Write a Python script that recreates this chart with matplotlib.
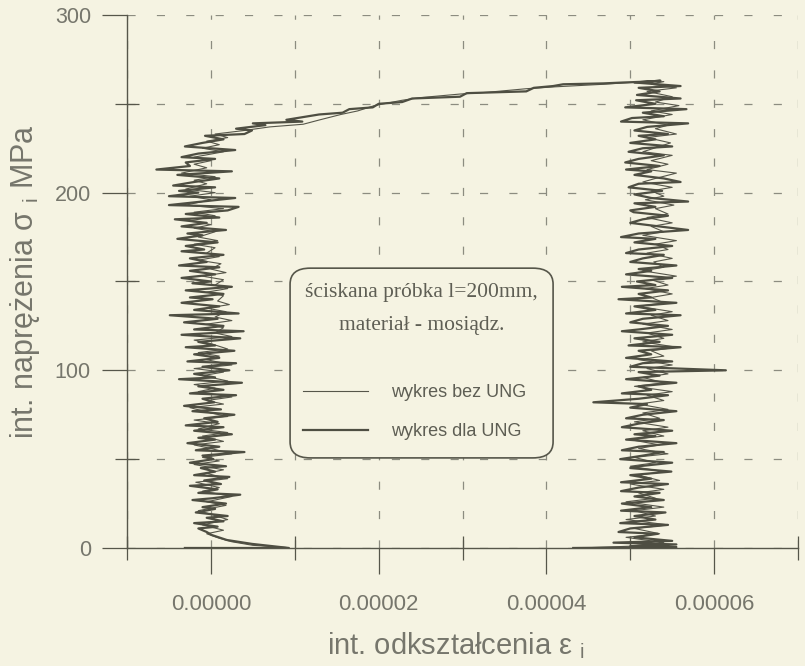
import matplotlib
matplotlib.use("Agg")
import matplotlib.pyplot as plt
from matplotlib.patches import FancyBboxPatch
from matplotlib.ticker import MultipleLocator, FormatStrFormatter

# strain values are given in micro-strain, stress in MPa
eps_dla = [
    -3.1, 9.3, 4.9, 1.9, 0.1, -0.5,
    -1.5, 0.8, -2.0, 1.5, -0.5, 2.0, -1.8, 0.5, -1.0, 1.8, -2.2, 0.2, 3.5, -1.5,
    0.8, -2.5, 1.2, -0.8, 2.2, -2.0, 0.5, -1.2, 1.8, -2.5, 0.3, -1.0, 4.0, -1.8,
    1.0, -2.8, 0.5, -1.5, 2.5, -2.0, 1.5, -3.0, 0.8, -0.8, 2.8, -2.2, 1.2, -3.2,
    0.4, -1.0, 3.0, -2.5, 1.5, -1.5, 3.7, -3.8, 0.5, -2.0, 2.2, -1.0, 3.0, -2.8,
    1.0, -2.0, 2.8, -3.0, 0.5, -1.5, 3.5, -3.5, 3.9, -2.0, 1.5, -3.2, 0.8, -4.9,
    3.3, -2.0, 1.0, -3.5, 0.2, -2.5, 1.5, -3.0, 2.5, -2.2, 0.0, -3.5, 0.5, -2.5,
    1.0, -3.8, -0.5, -2.5, 1.5, -3.5, -0.8, -3.0, 0.8, -4.0, -1.0, -2.8, 1.8, -3.5,
    -0.5, -4.3, 1.0, -3.0, 2.0, 3.3, -5.0, -1.0, 2.9, -5.0, -1.5, -3.8, 0.5, -4.5,
    -2.0, 1.0, -4.0, 2.5, -6.5, -2.5, -3.0, 0.5, -3.5, -1.5, 2.9, -3.1, -1.0, 1.5,
    -0.7, 4.0,
    4.9, 3.0, 6.5, 5.0, 10.9, 9.0, 12.9, 15.7, 16.5, 19.3, 20.0, 22.8, 24.0, 29.7,
    30.5, 37.6, 38.5, 40.8, 42.0, 46.8, 49.2, 52.0, 53.6,
    50.5, 56.0, 51.0, 53.5, 50.8, 56.0, 50.7, 53.0, 49.4, 56.7, 51.5, 54.0, 50.2,
    48.9, 56.9, 52.0, 50.5, 54.5, 51.0, 53.0, 50.0, 55.0, 51.5, 49.8, 54.0, 51.0,
    49.4, 53.5, 49.5, 52.5, 50.5, 54.0, 56.0, 51.0, 49.8, 53.8, 50.5, 52.5, 56.9,
    50.5, 53.0, 50.0, 50.4, 54.5, 51.5, 50.0, 53.5, 56.9, 51.0, 48.9, 53.0, 50.5,
    55.0, 51.0, 49.5, 54.0, 51.5, 50.0, 55.5, 51.0, 52.5, 49.5, 55.0, 50.8, 53.0,
    49.0, 54.5, 51.0, 52.5, 48.6, 55.5, 50.5, 53.0, 49.5, 56.0, 51.5, 50.0, 54.5,
    51.0, 49.0, 55.0, 50.5, 53.5, 49.8, 56.0, 51.0, 52.5, 49.5, 55.0, 51.5, 50.0,
    61.4, 51.0, 53.5, 49.5, 55.5, 51.0, 52.5, 49.0, 54.5, 51.0, 45.6, 52.0, 50.0,
    55.5, 51.5, 49.5, 54.0, 51.0, 49.0, 55.0, 50.5, 53.0, 49.5, 55.5, 51.0, 49.0,
    54.0, 51.5, 48.8, 55.0, 51.0, 50.0, 54.9, 50.0, 52.5, 48.9, 54.5, 51.0, 48.9,
    53.5, 50.5, 54.0, 49.0, 52.5, 48.9, 54.2, 50.5, 53.0, 48.8, 54.5, 50.0, 48.6,
    53.3, 50.5, 55.0, 48.0, 55.5, 50.0, 55.5, 43.2,
]
sig_dla = [
    0, 0, 2.3, 4.5, 7.3, 9,
    11, 12, 14, 15, 17, 18, 20, 22, 23, 25, 27, 28, 30, 31,
    33, 35, 36, 38, 40, 41, 43, 45, 46, 48, 50, 52, 54, 55,
    57, 59, 61, 62, 64, 66, 68, 69, 71, 73, 75, 77, 78, 80,
    82, 84, 86, 87, 89, 91, 93, 95, 96, 98, 100, 102, 104, 105,
    107, 109, 111, 113, 114, 116, 118, 120, 122, 123, 125, 127, 129, 131,
    132, 134, 136, 138, 140, 141, 143, 145, 147, 149, 150, 152, 154, 156,
    158, 159, 161, 163, 165, 167, 168, 170, 172, 174, 176, 177, 179, 181,
    183, 185, 186, 188, 190, 192, 193, 195, 197, 198, 200, 201, 203, 204,
    206, 208, 210, 212, 213, 215, 217, 219, 220, 222, 224, 226, 228, 230,
    232, 233,
    235, 236, 238, 239, 240, 241, 244, 245, 247, 248, 250, 251, 253, 254,
    256, 257, 259, 260, 261, 261.5, 262, 262.5, 263,
    262, 260, 259, 257, 255, 253, 252, 250, 248, 247, 245, 243, 242,
    240, 239, 237, 235, 233, 232, 230, 228, 226, 225, 223, 221, 219,
    217, 215, 213, 212, 210, 208, 206, 205, 203, 201, 199, 197, 195,
    194, 192, 190, 189, 187, 185, 183, 181, 179, 177, 175, 174, 172,
    170, 168, 166, 165, 163, 161, 159, 157, 156, 154, 152, 150, 148,
    147, 145, 143, 141, 140, 138, 136, 134, 132, 131, 129, 127, 125,
    123, 122, 120, 118, 116, 114, 113, 111, 109, 107, 105, 104, 102,
    100, 99, 97, 95, 93, 91, 89, 87, 86, 84, 82, 81, 79,
    77, 75, 73, 72, 70, 68, 66, 64, 63, 61, 59, 57, 55,
    54, 52, 50, 48, 46, 45, 43, 41, 39, 37, 36, 34, 32,
    31, 29, 27, 25, 23, 21, 20, 18, 16, 14, 13, 11, 9,
    8, 6, 4, 3, 2, 1, 0.5, 0,
]

eps_bez = [
    -2.0, 9.0, 5.0, 2.5, 1.0,
    -0.5, 1.5, -1.0, 2.0, 0.0, -1.5, 1.8, -0.5, 2.5, -1.0, 1.0, -1.8, 2.0, -0.5,
    1.5, -2.0, 1.0, -1.0, 2.5, 0.0, -2.0, 1.5, -1.0, 2.0, -1.5, 1.0, -2.0, 2.0,
    0.0, -2.5, 1.5, -0.5, 2.5, -1.5, 0.5, -2.0, 2.0, -1.0, 1.5, -2.0, 2.5, -0.5,
    1.0, -1.5, 2.0, 0.0, -2.0, 2.5, 0.5, 1.5, -0.5, 2.5, 0.5, 1.8, -0.5, 2.2,
    0.8, 1.5, -0.5, 2.0, 0.5, 1.5, -1.0, 1.8, 0.0, 1.2, -1.5, 1.0, -0.5, 0.5,
    -2.0, 0.8, -1.5, 0.5, -2.0, 0.0, -2.5, 0.5, -2.0, 1.5, -3.0, 0.0, -2.5, 0.5,
    -3.0, -0.5, -2.0, 0.5, -3.5, -0.5, -2.0, 0.0, -2.0, 1.5, -1.0, 1.0, -0.5, 2.0,
    0.5, 4.0,
    7.0, 11.0, 13.0, 15.5, 17.5, 19.5, 22.8, 25.0, 29.7, 33.0, 37.6, 40.8, 46.8,
    50.0, 54.0,
    52.5, 55.5, 52.0, 55.0, 53.0, 55.8, 52.5, 55.0, 51.5, 54.5, 53.0, 55.5, 52.0,
    54.8, 53.5, 51.5, 55.0, 52.5, 54.5, 52.0, 55.5, 53.0, 51.5, 55.0, 52.5, 54.0,
    51.8, 55.2, 53.0, 54.5, 52.0, 55.0, 52.5, 54.0, 51.5, 55.5, 53.0, 54.5, 52.0,
    55.0, 52.8, 54.0, 51.5, 55.5, 52.5, 54.5, 51.8, 55.0, 52.5, 54.0, 51.0, 55.0,
    52.5, 54.5, 51.5, 55.0, 52.0, 54.0, 51.5, 55.5, 52.5, 54.0, 51.0, 55.0, 52.0,
    54.5, 51.5, 54.0, 50.5, 55.0, 52.0, 54.0, 51.0, 54.5, 51.5, 53.5, 50.5, 54.5,
    51.5, 54.0, 50.0, 53.5, 51.0, 54.5, 50.5, 53.0, 50.0, 54.0, 51.0, 53.5, 50.0,
    54.0, 51.0, 53.0, 49.5, 54.0, 50.5, 53.0, 49.5, 54.5, 50.5, 53.5, 49.5, 54.0,
    50.0, 44.0,
]
sig_bez = [
    0, 0.3, 1.5, 3.5, 5.5,
    8, 10, 13, 16, 19, 21, 24, 26, 29, 32, 34, 37, 39, 42,
    44, 47, 49, 51, 53, 56, 58, 60, 63, 65, 67, 70, 72, 74,
    76, 79, 81, 83, 85, 88, 90, 92, 94, 97, 99, 101, 103, 106,
    108, 110, 112, 115, 117, 119, 121, 124, 126, 128, 130, 133, 135, 137,
    139, 142, 144, 146, 148, 151, 153, 155, 157, 160, 162, 164, 166, 169,
    171, 173, 175, 178, 180, 182, 184, 187, 189, 191, 193, 196, 198, 200,
    202, 205, 207, 209, 211, 214, 216, 218, 220, 223, 225, 227, 229, 231,
    233, 235,
    237, 238.5, 241, 244, 246, 249, 252, 253.5, 255.5, 256.5, 258.5, 259.5, 261,
    262, 262.5,
    261, 259, 257, 254, 251, 249, 246, 244, 241, 238, 236, 233, 231,
    228, 226, 223, 221, 218, 216, 213, 211, 208, 206, 203, 201, 198,
    196, 193, 191, 188, 186, 183, 181, 178, 176, 173, 171, 168, 166,
    163, 161, 158, 156, 153, 151, 148, 146, 143, 141, 138, 136, 133,
    131, 128, 126, 123, 121, 118, 116, 113, 111, 108, 106, 103, 101,
    98, 96, 93, 91, 88, 86, 83, 81, 78, 76, 73, 71, 68,
    66, 63, 61, 58, 56, 53, 51, 48, 46, 43, 41, 38, 36,
    33, 31, 28, 26, 23, 21, 18, 16, 13, 11, 8, 6, 3,
    1, 0,
]

x_major = [0.0, 2e-5, 4e-5, 6e-5]
legend_title = ["ściskana próbka l=200mm,", "materiał - mosiądz."]
series_labels = ["wykres bez UNG", "wykres dla UNG"]

paper = "#f5f3e2"
ink = "#56564a"
text_col = "#76766c"
grid_col = "#8c8c80"

plt.rcParams["font.family"] = ["Liberation Sans", "DejaVu Sans"]
plt.rcParams["mathtext.fontset"] = "custom"
plt.rcParams["mathtext.rm"] = "Liberation Sans"
plt.rcParams["mathtext.it"] = "Liberation Sans:italic"

fig = plt.figure(figsize=(8.05, 6.66), dpi=100, facecolor=paper)
ax = fig.add_axes([0.1578, 0.1772, 0.8335, 0.8003], facecolor=paper)

to_strain = lambda vals: [v * 1e-6 for v in vals]
ln_bez, = ax.plot(to_strain(eps_bez), sig_bez, color=ink, lw=0.8, zorder=3)
ln_dla, = ax.plot(to_strain(eps_dla), sig_dla, color="#4e4e42", lw=1.6, zorder=4)

ax.set_xlim(-1e-5, 7e-5)
ax.set_ylim(0, 300)
for side in ("top", "right"):
    ax.spines[side].set_visible(False)
for side in ("left", "bottom"):
    ax.spines[side].set_color(ink)
    ax.spines[side].set_linewidth(1.0)

ax.xaxis.set_major_locator(plt.FixedLocator(x_major))
ax.xaxis.set_minor_locator(MultipleLocator(1e-5))
ax.xaxis.set_major_formatter(FormatStrFormatter("%.5f"))
ax.yaxis.set_major_locator(MultipleLocator(100))
ax.yaxis.set_minor_locator(MultipleLocator(50))

ax.tick_params(axis="x", which="major", direction="out", length=19, width=0.9,
               color=ink, labelcolor=text_col, labelsize=16, pad=14)
ax.tick_params(axis="y", which="major", direction="out", length=18, width=0.9,
               color=ink, labelcolor=text_col, labelsize=15.5, pad=8)
ax.tick_params(which="minor", direction="inout", length=17, width=0.9, color=ink)

dash = (0, (6.5, 17))
ax.grid(True, which="both", axis="both", color=grid_col, lw=0.9, linestyle=dash, zorder=1)
ax.set_axisbelow(True)

ax.set_xlabel(r"int. odkształcenia ε $_{\rm i}$", fontsize=21, color=text_col, labelpad=9)
ax.xaxis.set_label_coords(0.491, -0.155)
ax.set_ylabel(r"int. naprężenia σ $_{\rm i}$ MPa", fontsize=22, color=text_col, labelpad=9)

box = FancyBboxPatch((0.243, 0.169), 0.392, 0.356, transform=ax.transAxes,
                     boxstyle="round,pad=0,rounding_size=0.03", facecolor=paper,
                     edgecolor=ink, lw=1.2, zorder=5)
ax.add_patch(box)
for txt, yy in zip(legend_title, (0.480, 0.418)):
    ax.text(0.439, yy, txt, transform=ax.transAxes, ha="center", va="center",
            family="Liberation Serif", fontsize=15.5, color="#5e5e54", zorder=6)

leg = ax.legend([ln_bez, ln_dla], series_labels, loc="upper left",
                bbox_to_anchor=(0.262, 0.307), frameon=False, fontsize=13,
                handlelength=3.6, handletextpad=1.3, labelspacing=1.22,
                borderpad=0, borderaxespad=0)
leg.set_zorder(7)
for t in leg.get_texts():
    t.set_color("#5e5e54")

fig.savefig("out.png", dpi=100, facecolor=paper)
